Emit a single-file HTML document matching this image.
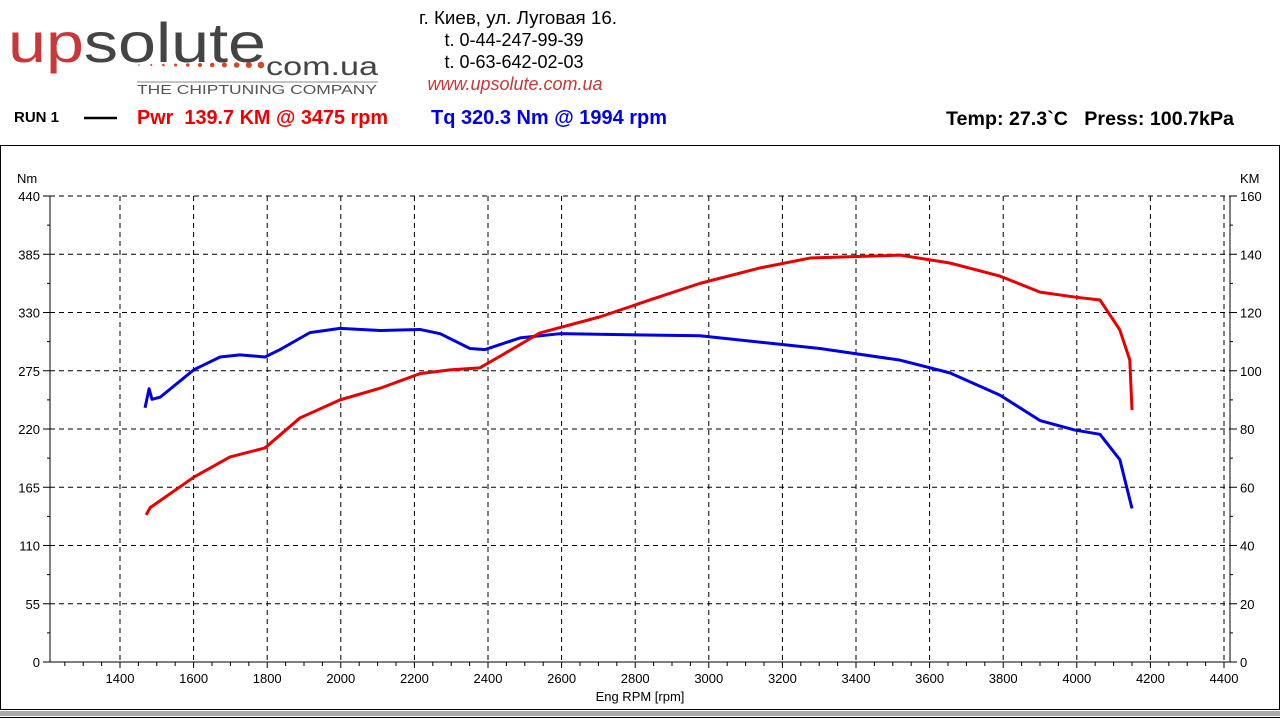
<!DOCTYPE html>
<html><head><meta charset="utf-8"><style>
body{margin:0;width:1280px;height:720px;background:#fff;overflow:hidden;font-family:"Liberation Sans","Noto Sans CJK SC",sans-serif}
svg{position:absolute;left:0;top:0}
</style></head><body>
<svg width="1280" height="720">
<g>
<text x="8" y="62" font-size="56" fill="#c8383a" textLength="258" lengthAdjust="spacingAndGlyphs">up<tspan fill="#444">solute</tspan></text>
<text x="266" y="75" font-size="26" fill="#444" textLength="112" lengthAdjust="spacingAndGlyphs">com.ua</text>
<g id="dots"></g>
<line x1="137" y1="82" x2="378" y2="82" stroke="#888" stroke-width="1"/>
<text x="137" y="94" font-size="13" fill="#555" textLength="240" lengthAdjust="spacingAndGlyphs">THE CHIPTUNING COMPANY</text>
<g font-size="18" text-anchor="middle" fill="#000">
<text x="518" y="24" textLength="198" lengthAdjust="spacingAndGlyphs">г. Киев, ул. Луговая 16.</text>
<text x="514" y="46">t. 0-44-247-99-39</text>
<text x="514" y="68">t. 0-63-642-02-03</text>
<text x="515" y="90" fill="#c8383a" font-style="italic">www.upsolute.com.ua</text>
</g>
<text x="14" y="122" font-size="15" font-weight="bold">RUN 1</text>
<line x1="84" y1="118" x2="117" y2="118" stroke="#000" stroke-width="2.5"/>
<text x="137" y="124" font-size="20" font-weight="bold" fill="#ee0000" textLength="251" lengthAdjust="spacingAndGlyphs" xml:space="preserve">Pwr  139.7 KM @ 3475 rpm</text>
<text x="431" y="124" font-size="20" font-weight="bold" fill="#0000ee" textLength="236" lengthAdjust="spacingAndGlyphs">Tq 320.3 Nm @ 1994 rpm</text>
<text x="946" y="125" font-size="19" font-weight="bold" textLength="288" lengthAdjust="spacingAndGlyphs" xml:space="preserve">Temp: 27.3`C   Press: 100.7kPa</text>
</g>
<rect x="0.5" y="145.5" width="1279" height="564" fill="none" stroke="#000"/>
<rect x="0" y="711" width="1280" height="5" fill="#aaa"/>
<line x1="0" y1="717.5" x2="1280" y2="717.5" stroke="#000"/>
<g id="grid"></g>
<g id="axes"></g>
<g id="series"></g>
<text x="17" y="183" font-size="13">Nm</text>
<text x="1240" y="183" font-size="13">KM</text>
<text x="640" y="701" font-size="13" text-anchor="middle">Eng RPM [rpm]</text>
</svg>
<script>
const xTicks=[1400,1600,1800,2000,2200,2400,2600,2800,3000,3200,3400,3600,3800,4000,4200,4400];
const nmTicks=[0,55,110,165,220,275,330,385,440];
const kmTicks=[0,20,40,60,80,100,120,140,160];
const tqRpm=[1468,1479,1487,1509,1601,1672,1726,1794,1835,1916,1998,2107,2215,2270,2351,2392,2487,2596,2976,3193,3302,3520,3655,3791,3900,3995,4063,4117,4150];
const tqVal=[240,258,248,250,276,288,290,288,295,311,315,313,314,310,296,295,306,310,308,300,296,285,273,252,228,219,215,191,145];
const pwRpm=[1471,1482,1601,1699,1794,1889,1998,2107,2215,2297,2378,2433,2541,2704,2840,2976,3139,3275,3520,3655,3791,3900,3995,4063,4117,4144,4150];
const pwVal=[50.5,53,63.5,70.4,73.5,83.8,90,94,99,100.3,101,105,113,118.5,124.3,130,135.3,138.7,139.7,137,132.5,127,125.3,124.3,114,103.7,86.5];
const NS="http://www.w3.org/2000/svg";
const X0=50,X1=1230,YT=196,YB=662;
const xs=r=>120+(r-1400)*73.6/200;
const yNm=v=>YB-v*(YB-YT)/440;
const yKm=v=>YB-v*(YB-YT)/160;
function mk(p,t,a){const e=document.createElementNS(NS,t);for(const k in a)e.setAttribute(k,a[k]);p.appendChild(e);return e;}
const grid=document.getElementById('grid'),axes=document.getElementById('axes'),ser=document.getElementById('series');
const dots=document.getElementById('dots');
for(let i=0;i<11;i++){mk(dots,'circle',{cx:139+i*12.2,cy:65,r:0.8+i*0.25,fill:'#d04a2a'});}
xTicks.forEach(r=>{const x=xs(r);
const l=mk(grid,'line',{x1:x,y1:YT,x2:x,y2:YB,stroke:'#000','stroke-dasharray':'5,4'});


const t=mk(axes,'text',{x:x,y:683,'font-size':13,'text-anchor':'middle'});t.textContent=r;

});
for(let r=1250;r<=4400;r+=50){const x=xs(r);mk(axes,'line',{x1:x,y1:YB,x2:x,y2:YB+(r%200==0?6:4),stroke:'#000'});}
nmTicks.forEach((v,i)=>{const y=yNm(v);
const l=mk(grid,'line',{x1:X0,y1:y,x2:X1,y2:y,stroke:'#000','stroke-dasharray':'5,4'});


mk(axes,'line',{x1:X0-7,y1:y,x2:X0,y2:y,stroke:'#000'});
mk(axes,'line',{x1:X1,y1:y,x2:X1+7,y2:y,stroke:'#000'});
if(i<nmTicks.length-1){const ym=y-(YB-YT)/16;mk(axes,'line',{x1:X0-3,y1:ym,x2:X0,y2:ym,stroke:'#000'});mk(axes,'line',{x1:X1,y1:ym,x2:X1+3,y2:ym,stroke:'#000'});}
const t=mk(axes,'text',{x:X0-10,y:y+5,'font-size':13,'text-anchor':'end'});t.textContent=v;

});
kmTicks.forEach(v=>{const t=mk(axes,'text',{x:X1+10,y:yKm(v)+5,'font-size':13});t.textContent=v;

});
mk(axes,'line',{x1:X0,y1:YT,x2:X0,y2:YB,stroke:'#000'});
mk(axes,'line',{x1:X1,y1:YT,x2:X1,y2:YB,stroke:'#000'});
mk(axes,'line',{x1:X0,y1:YB,x2:X1,y2:YB,stroke:'#000'});
const tq=mk(ser,'polyline',{points:tqRpm.map((r,i)=>xs(r)+','+yNm(tqVal[i])).join(' '),fill:'none',stroke:'#0000e0','stroke-width':3,'stroke-linejoin':'round'});


const pw=mk(ser,'polyline',{points:pwRpm.map((r,i)=>xs(r)+','+yKm(pwVal[i])).join(' '),fill:'none',stroke:'#e80000','stroke-width':3,'stroke-linejoin':'round'});


</script>
</body></html>
